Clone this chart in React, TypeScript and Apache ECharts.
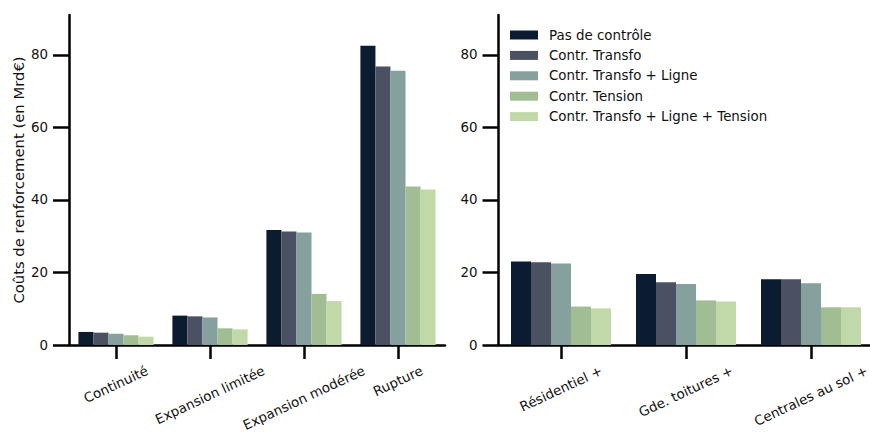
import React, { useEffect, useRef } from "react";
import * as echarts from "echarts";

const seriesNames = [
  "Pas de contrôle",
  "Contr. Transfo",
  "Contr. Transfo + Ligne",
  "Contr. Tension",
  "Contr. Transfo + Ligne + Tension",
];
const seriesColors = ["#0b1c31", "#4a5162", "#86a09d", "#a1bd93", "#c1d8a9"];

const categoriesLeft = ["Continuité", "Expansion limitée", "Expansion modérée", "Rupture"];
const categoriesRight = ["Résidentiel +", "Gde. toitures +", "Centrales au sol +"];

// one array per series (same order as seriesNames)
const pasDeControleLeft = [3.6, 8.1, 31.7, 82.5];
const transfoLeft = [3.4, 7.9, 31.3, 76.8];
const transfoLigneLeft = [3.1, 7.6, 31.0, 75.6];
const tensionLeft = [2.7, 4.6, 14.1, 43.7];
const transfoLigneTensionLeft = [2.3, 4.3, 12.1, 42.9];

const pasDeControleRight = [23.0, 19.6, 18.1];
const transfoRight = [22.8, 17.3, 18.1];
const transfoLigneRight = [22.5, 16.8, 17.0];
const tensionRight = [10.6, 12.3, 10.4];
const transfoLigneTensionRight = [10.1, 12.0, 10.4];

const leftValues = [pasDeControleLeft, transfoLeft, transfoLigneLeft, tensionLeft, transfoLigneTensionLeft];
const rightValues = [pasDeControleRight, transfoRight, transfoLigneRight, tensionRight, transfoLigneTensionRight];

const yTicks = [0, 20, 40, 60, 80];
const yName = "Coûts de renforcement (en Mrd€)";

const FONT = "DejaVu Sans";
const FS = 13.4;
const ROT = 25;

function measure(text: string): number {
  const c = document.createElement("canvas");
  const ctx = c.getContext("2d");
  if (!ctx) return text.length * 8;
  ctx.font = `${FS}px "${FONT}"`;
  return ctx.measureText(text).width;
}

// rich styles that emulate matplotlib's "bbox top-centred" rotated tick labels
function richFor(cats: string[]) {
  const s = Math.sin((ROT * Math.PI) / 180);
  const c = Math.cos((ROT * Math.PI) / 180);
  const rich: Record<string, any> = {};
  cats.forEach((name, i) => {
    const L = measure(name);
    const D = (L * s) / 2;
    rich["t" + i] = {
      fontFamily: FONT,
      fontSize: FS,
      color: "#111",
      padding: [2 * D * c, 2 * D * s, 0, 0],
    };
  });
  return rich;
}

export default function App() {
  const ref = useRef<HTMLDivElement>(null);
  useEffect(() => {
    if (!ref.current) return;
    const chart = echarts.init(ref.current, null, { renderer: "svg" });

    const axisLine = { show: true, lineStyle: { color: "#000", width: 2.5 } };
    const yAxisCommon = (gridIndex: number, named: boolean) => ({
      type: "value",
      gridIndex,
      min: 0,
      max: 91,
      interval: 20,
      name: named ? yName : "",
      nameLocation: "middle",
      nameGap: 43,
      nameTextStyle: { fontFamily: FONT, fontSize: 14.8, color: "#111" },
      axisLine,
      axisTick: { show: true, length: 16, lineStyle: { color: "#000", width: 2.5 }, customValues: yTicks },
      axisLabel: { margin: 21, fontFamily: FONT, fontSize: FS, color: "#111", customValues: yTicks },
      splitLine: { show: false },
    });
    const xAxisCommon = (gridIndex: number, cats: string[]) => ({
      type: "category",
      gridIndex,
      data: cats,
      axisLine,
      axisTick: { show: true, alignWithLabel: true, length: 14, lineStyle: { color: "#000", width: 2.5 } },
      axisLabel: {
        interval: 0,
        rotate: ROT,
        align: "center",
        verticalAlign: "middle",
        margin: 25,
        fontFamily: FONT,
        fontSize: FS,
        color: "#111",
        hideOverlap: false,
        formatter: (v: string, i: number) => `{t${i}|${v}}`,
        rich: richFor(cats),
      },
      splitLine: { show: false },
    });

    const series: any[] = [];
    seriesNames.forEach((name, i) => {
      series.push({
        type: "bar",
        name,
        xAxisIndex: 0,
        yAxisIndex: 0,
        data: leftValues[i],
        itemStyle: { color: seriesColors[i] },
        barGap: "0%",
        barCategoryGap: "20%",
      });
    });
    seriesNames.forEach((name, i) => {
      series.push({
        type: "bar",
        name,
        xAxisIndex: 1,
        yAxisIndex: 1,
        data: rightValues[i],
        itemStyle: { color: seriesColors[i] },
        barGap: "0%",
        barCategoryGap: "20%",
      });
    });

    chart.setOption({
      animation: false,
      backgroundColor: "#fff",
      textStyle: { fontFamily: FONT },
      grid: [
        { left: 69, top: 15, width: 376, height: 330, containLabel: false, outerBoundsMode: "none" },
        { left: 498.5, top: 15, width: 375, height: 330, containLabel: false, outerBoundsMode: "none" },
      ],
      xAxis: [xAxisCommon(0, categoriesLeft), xAxisCommon(1, categoriesRight)],
      yAxis: [yAxisCommon(0, true), yAxisCommon(1, false)],
      legend: {
        data: seriesNames,
        orient: "vertical",
        left: 510,
        top: 28,
        padding: 0,
        itemWidth: 28,
        itemHeight: 9,
        itemGap: 6.4,
        icon: "rect",
        textStyle: { fontFamily: FONT, fontSize: FS, color: "#111", lineHeight: 14, padding: [0, 0, 0, 6] },
      },
      series,
    });
    return () => chart.dispose();
  }, []);
  return (
    <div
      ref={ref}
      style={{ position: "fixed", left: 0, top: 0, width: 870, height: 432, background: "#fff" }}
    />
  );
}
